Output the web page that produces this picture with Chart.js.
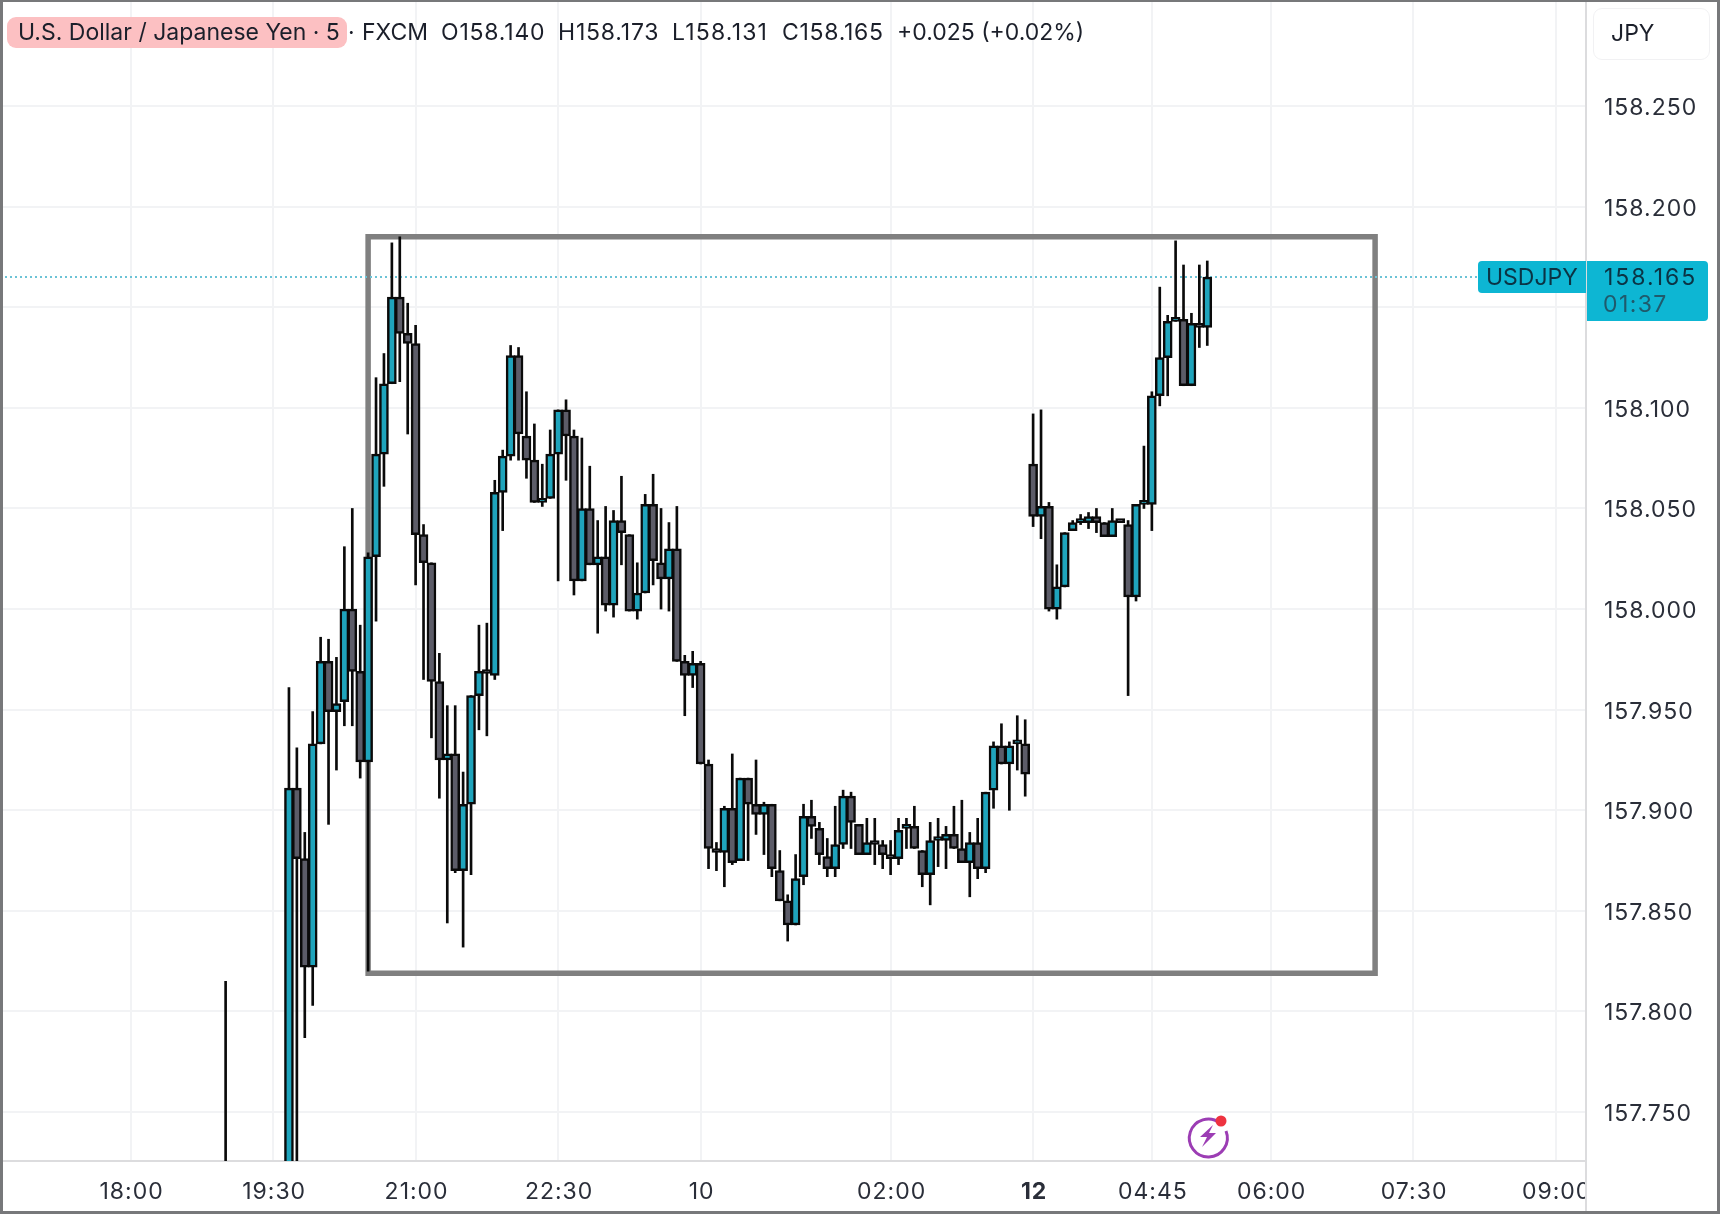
<!DOCTYPE html>
<html>
<head>
<meta charset="utf-8">
<title>USDJPY</title>
<script src="https://cdn.jsdelivr.net/npm/chart.js@4/dist/chart.umd.min.js"></script>
<style>
  html, body { margin: 0; padding: 0; background: #fff; }
  #wrap { position: relative; width: 1720px; height: 1214px; overflow: hidden; font-family: Inter, sans-serif; color: #1b1f2a; }
  #wrap canvas { position: absolute; left: 0; top: 0; }
  .txt { position: absolute; font-size: 23px; line-height: 30px; white-space: nowrap; }
  #pill { position: absolute; left: 7px; top: 17px; width: 340px; height: 31px; background: #fcc0c2; border-radius: 9px; }
  #jpyBox { position: absolute; left: 1593px; top: 8px; width: 115px; height: 50px; border: 1px solid #f1f1f3; border-radius: 9px; }
  #tagName { position: absolute; left: 1478px; top: 261px; width: 108px; height: 32px; background: #0db6d3; border-radius: 4px 0 0 4px; }
  #tagPrice { position: absolute; left: 1587px; top: 261px; width: 121px; height: 60px; background: #0db6d3; border-radius: 0 4px 4px 0; }
  #corner { position: absolute; left: 1585px; top: 1162px; width: 135px; height: 52px; background: #fff; border-left: 2px solid #dcdcde; box-sizing: border-box; }
  #frame { position: absolute; left: 0; top: 0; width: 1720px; height: 1214px; box-sizing: border-box; border-style: solid; border-color: #77787a; border-width: 2px 3px 3px 3px; pointer-events: none; }
  #bolt { position: absolute; left: 1183px; top: 1110px; }
</style>
</head>
<body>
<div id="wrap">
  <canvas id="priceChart" width="1720" height="1214"></canvas>

  <div id="pill"></div>
  <div class="txt" style="left:18px;top:17px">U.S. Dollar / Japanese Yen · 5</div>
  <div class="txt" style="left:348px;top:17px">·</div>
  <div class="txt" style="left:362px;top:17px">FXCM</div>
  <div class="txt" style="left:441px;top:17px;letter-spacing:.8px">O158.140</div>
  <div class="txt" style="left:558px;top:17px;letter-spacing:.8px">H158.173</div>
  <div class="txt" style="left:672px;top:17px;letter-spacing:1.2px">L158.131</div>
  <div class="txt" style="left:782px;top:17px;letter-spacing:.7px">C158.165</div>
  <div class="txt" style="left:897px;top:17px">+0.025 (+0.02%)</div>

  <div id="jpyBox"></div>
  <div class="txt" style="left:1611px;top:18px">JPY</div>

  <div id="tagName"></div>
  <div class="txt" style="left:1486px;top:262px;color:#0b3344">USDJPY</div>
  <div id="tagPrice"></div>
  <div class="txt" style="left:1604px;top:262px;color:#0b3344;letter-spacing:2px">158.165</div>
  <div class="txt" style="left:1603px;top:289px;color:#1f5a6c;letter-spacing:1.4px">01:37</div>

  <div id="corner"></div>

  <svg id="bolt" width="50" height="50" viewBox="0 0 50 50">
    <path d="M37 13 A19 19 0 1 0 43 21" fill="none" stroke="#9c3db4" stroke-width="3"/>
    <path d="M30 15 L17 27 L24 27 L19 37 L33 23 L26 23 Z" fill="#9c3db4"/>
    <circle cx="38" cy="11" r="5.5" fill="#ee3340"/>
  </svg>

  <div id="frame"></div>
</div>

<script>
// -------- DATA --------
// candle times, minutes after 18:00 on the first day
const candleTimes = [
  60, 100, 105, 110, 115, 120, 125, 130, 135, 140, 145,
  150, 155, 160, 165, 170, 175, 180, 185, 190, 195,
  200, 205, 210, 215, 220, 225, 230, 235, 240, 245,
  250, 255, 260, 265, 270, 275, 280, 285, 290, 295,
  300, 305, 310, 315, 320, 325, 330, 335, 340, 345,
  350, 355, 360, 365, 370, 375, 380, 385, 390, 395,
  400, 405, 410, 415, 420, 425, 430, 435, 440, 445,
  450, 455, 460, 465, 470, 475, 480, 485, 490, 495,
  500, 505, 510, 515, 520, 525, 530, 535, 540, 545,
  550, 555, 560, 565, 570, 575, 580, 585, 590, 595,
  600, 605, 610, 615, 620, 625, 630, 635, 640, 645,
  650, 655, 660, 665, 670, 675, 680
];
const opens = [
  157.700, 157.690, 157.911, 157.876, 157.822, 157.933, 157.974, 157.949, 157.954, 158.000, 157.969,
  157.924, 158.026, 158.077, 158.112, 158.155, 158.137, 158.132, 158.037, 158.023, 157.964,
  157.925, 157.928, 157.870, 157.903, 157.957, 157.969, 157.967, 158.058, 158.076, 158.126,
  158.086, 158.074, 158.053, 158.055, 158.077, 158.099, 158.086, 158.014, 158.050, 158.022,
  158.026, 158.002, 158.044, 158.037, 157.999, 158.008, 158.052, 158.023, 158.015, 158.030,
  157.974, 157.967, 157.973, 157.923, 157.881, 157.879, 157.901, 157.875, 157.916, 157.903,
  157.898, 157.903, 157.870, 157.855, 157.843, 157.867, 157.897, 157.891, 157.877, 157.871,
  157.883, 157.907, 157.893, 157.878, 157.884, 157.883, 157.877, 157.876, 157.891, 157.892,
  157.880, 157.868, 157.885, 157.885, 157.888, 157.881, 157.874, 157.884, 157.871, 157.910,
  157.932, 157.923, 157.933, 157.933, 158.072, 158.046, 158.051, 158.000, 158.011, 158.039,
  158.043, 158.043, 158.046, 158.043, 158.036, 158.044, 158.042, 158.006, 158.052, 158.052,
  158.106, 158.125, 158.143, 158.144, 158.111, 158.142, 158.140
];
const highs = [
  157.815, 157.961, 157.931, 157.889, 157.949, 157.986, 157.985, 157.976, 158.031, 158.050, 157.992,
  158.028, 158.115, 158.127, 158.182, 158.185, 158.152, 158.141, 158.042, 158.023, 157.978,
  157.952, 157.952, 157.919, 157.957, 157.992, 157.993, 158.064, 158.079, 158.131, 158.130,
  158.108, 158.092, 158.072, 158.089, 158.099, 158.104, 158.089, 158.085, 158.071, 158.044,
  158.051, 158.049, 158.066, 158.037, 158.023, 158.057, 158.067, 158.050, 158.043, 158.051,
  157.977, 157.979, 157.974, 157.925, 157.884, 157.902, 157.928, 157.916, 157.916, 157.925,
  157.904, 157.903, 157.880, 157.858, 157.878, 157.903, 157.905, 157.894, 157.886, 157.902,
  157.910, 157.909, 157.893, 157.896, 157.896, 157.885, 157.885, 157.896, 157.896, 157.902,
  157.880, 157.894, 157.896, 157.892, 157.902, 157.905, 157.889, 157.896, 157.909, 157.934,
  157.943, 157.934, 157.947, 157.945, 158.097, 158.099, 158.053, 158.022, 158.038, 158.044,
  158.047, 158.048, 158.050, 158.043, 158.050, 158.044, 158.044, 158.052, 158.081, 158.108,
  158.160, 158.146, 158.183, 158.171, 158.147, 158.171, 158.173
];
const lows = [
  157.650, 157.660, 157.700, 157.787, 157.803, 157.933, 157.893, 157.920, 157.942, 157.942, 157.916,
  157.820, 157.994, 158.061, 158.112, 158.113, 158.087, 158.012, 157.965, 157.936, 157.906,
  157.844, 157.869, 157.832, 157.868, 157.940, 157.937, 157.965, 158.039, 158.074, 158.074,
  158.065, 158.053, 158.051, 158.055, 158.014, 158.064, 158.007, 158.014, 158.022, 157.988,
  157.999, 157.996, 158.022, 157.999, 157.995, 158.008, 158.012, 158.000, 157.999, 157.974,
  157.947, 157.961, 157.923, 157.871, 157.870, 157.862, 157.873, 157.875, 157.875, 157.888,
  157.878, 157.867, 157.855, 157.835, 157.843, 157.863, 157.886, 157.873, 157.867, 157.867,
  157.881, 157.881, 157.878, 157.878, 157.873, 157.871, 157.868, 157.873, 157.881, 157.881,
  157.862, 157.853, 157.872, 157.871, 157.881, 157.874, 157.857, 157.866, 157.869, 157.901,
  157.923, 157.900, 157.920, 157.907, 158.041, 158.035, 157.999, 157.995, 158.011, 158.039,
  158.042, 158.040, 158.038, 158.036, 158.036, 158.043, 157.957, 158.004, 158.050, 158.039,
  158.101, 158.106, 158.143, 158.111, 158.111, 158.130, 158.131
];
const closes = [
  157.690, 157.911, 157.876, 157.822, 157.933, 157.974, 157.949, 157.953, 158.000, 157.969, 157.924,
  158.026, 158.077, 158.112, 158.155, 158.137, 158.132, 158.037, 158.023, 157.964, 157.925,
  157.928, 157.870, 157.903, 157.957, 157.969, 157.968, 158.058, 158.076, 158.126, 158.087,
  158.074, 158.053, 158.055, 158.077, 158.099, 158.086, 158.014, 158.050, 158.022, 158.026,
  158.002, 158.044, 158.038, 157.999, 158.008, 158.052, 158.024, 158.015, 158.030, 157.974,
  157.967, 157.973, 157.923, 157.881, 157.879, 157.901, 157.874, 157.916, 157.903, 157.898,
  157.903, 157.871, 157.855, 157.843, 157.866, 157.897, 157.892, 157.878, 157.871, 157.883,
  157.907, 157.894, 157.878, 157.884, 157.883, 157.878, 157.876, 157.890, 157.892, 157.881,
  157.868, 157.885, 157.885, 157.888, 157.881, 157.874, 157.884, 157.871, 157.909, 157.932,
  157.923, 157.932, 157.933, 157.918, 158.046, 158.051, 158.000, 158.011, 158.038, 158.043,
  158.043, 158.046, 158.043, 158.036, 158.044, 158.043, 158.006, 158.052, 158.052, 158.106,
  158.125, 158.143, 158.144, 158.111, 158.142, 158.140, 158.165
];

const timeTicks = [0, 90, 180, 270, 360, 480, 570, 645, 720, 810, 900];
const timeLabels = ["18:00", "19:30", "21:00", "22:30", "10", "02:00", "12", "04:45", "06:00", "07:30", "09:00"];
const priceTicks = [157.75, 157.8, 157.85, 157.9, 157.95, 158, 158.05, 158.1, 158.15, 158.2, 158.25];

// the drawn rectangle on the chart
const boxTimes = [150, 786, 786, 150, 150];
const boxPrices = [158.185, 158.185, 157.819, 157.819, 158.185];

const lastPrice = 158.165;

// -------- COLOURS --------
const upColor = "#1fa4bc";
const downColor = "#5c5c68";
const gridColor = "#f2f3f5";
const axisColor = "#dcdcde";
const textColor = "#2a2e39";

// -------- BUILD DATASETS --------
const wickData = candleTimes.map((t, i) => ({ x: t, y: [lows[i], highs[i]] }));
const bodyData = candleTimes.map((t, i) => ({ x: t, y: [opens[i], closes[i]] }));
const bodyColors = candleTimes.map((t, i) => (closes[i] >= opens[i] ? upColor : downColor));
const boxData = boxTimes.map((t, i) => ({ x: t, y: boxPrices[i] }));

const xMin = -82.5;
const xMax = 919.2;
const lastLine = [{ x: xMin, y: lastPrice }, { x: xMax, y: lastPrice }];

// axis labels in the original are a bit wider than Inter on canvas
const tickSpacing = {
  id: "tickSpacing",
  beforeDraw(chart) {
    chart.ctx.letterSpacing = "1px";
  }
};

// no room reserved for half labels, the plot goes right up to the edges
function noPadding(axis) {
  axis.paddingTop = 0;
  axis.paddingBottom = 0;
  axis.paddingLeft = 0;
  axis.paddingRight = 0;
}

new Chart(document.getElementById("priceChart"), {
  type: "bar",
  plugins: [tickSpacing],
  data: {
    datasets: [
      {
        type: "line",
        data: boxData,
        borderColor: "#808080",
        borderWidth: 5.5,
        borderJoinStyle: "miter",
        borderCapStyle: "square",
        pointRadius: 0,
        tension: 0,
        order: 4
      },
      {
        type: "line",
        data: lastLine,
        borderColor: "#6cc3d6",
        borderWidth: 2,
        borderDash: [2, 3],
        pointRadius: 0,
        order: 3
      },
      {
        data: wickData,
        backgroundColor: "#0a0a0a",
        barThickness: 2,
        grouped: false,
        borderSkipped: false,
        order: 2
      },
      {
        data: bodyData,
        backgroundColor: bodyColors,
        borderColor: "#0a0a0a",
        borderWidth: 2.5,
        borderSkipped: false,
        barThickness: 9,
        minBarLength: 4,
        grouped: false,
        order: 1
      }
    ]
  },
  options: {
    responsive: false,
    animation: false,
    events: [],
    plugins: {
      legend: { display: false },
      tooltip: { enabled: false }
    },
    scales: {
      x: {
        type: "linear",
        offset: false,
        min: xMin,
        max: xMax,
        afterBuildTicks: (axis) => {
          axis.ticks = timeTicks.map((v) => ({ value: v }));
        },
        afterFit: (axis) => {
          axis.height = 53;
          noPadding(axis);
        },
        grid: { color: gridColor, lineWidth: 2, offset: false, drawTicks: false },
        border: { color: axisColor, width: 2 },
        ticks: {
          color: textColor,
          maxRotation: 0,
          autoSkip: false,
          padding: 17,
          labelOffset: 1,
          font: (ctx) => ({
            family: "Inter",
            size: 23,
            weight: ctx.tick && ctx.tick.value === 570 ? "bold" : "normal"
          }),
          callback: (value) => timeLabels[timeTicks.indexOf(value)]
        }
      },
      y: {
        type: "linear",
        position: "right",
        min: 157.7257,
        max: 158.3027,
        afterBuildTicks: (axis) => {
          axis.ticks = priceTicks.map((v) => ({ value: v }));
        },
        afterFit: (axis) => {
          axis.width = 134;
          noPadding(axis);
        },
        grid: { color: gridColor, lineWidth: 2, drawTicks: false },
        border: { color: axisColor, width: 2 },
        ticks: {
          color: textColor,
          padding: 18,
          labelOffset: 2,
          font: { family: "Inter", size: 23 },
          callback: (value) => value.toFixed(3)
        }
      }
    }
  }
});
</script>
</body>
</html>
